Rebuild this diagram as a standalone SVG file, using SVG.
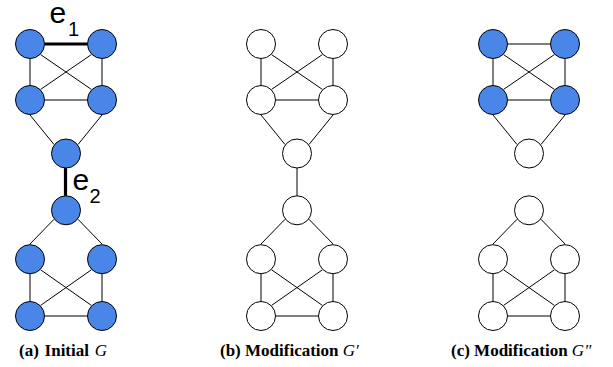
<svg xmlns="http://www.w3.org/2000/svg" width="613" height="367" viewBox="0 0 613 367">
<style>
.e{stroke:#000;stroke-width:1;fill:none}
.b{stroke:#000;stroke-width:3.2;fill:none}
.n{stroke:#000;stroke-width:1;fill:#fff}
.f{fill:#4A86E8}
.lab{font-family:"Liberation Sans",Arial,sans-serif;fill:#000}
.cap{font-family:"Liberation Serif","Times New Roman",serif;font-weight:bold;font-size:17px;fill:#000}
.it{font-style:italic;font-weight:normal}
</style>
<rect width="613" height="367" fill="#fff"/>
<g id="connectors">
<!-- (a) -->
<line class="b" x1="45" y1="44" x2="87" y2="44"/>
<line class="e" x1="30" y1="59" x2="30" y2="85"/>
<line class="e" x1="102" y1="59" x2="102" y2="85"/>
<line class="e" x1="40.6" y1="54.6" x2="91.4" y2="89.4"/>
<line class="e" x1="91.4" y1="54.6" x2="40.6" y2="89.4"/>
<line class="e" x1="45" y1="100" x2="87" y2="100"/>
<line class="e" x1="30" y1="115" x2="54" y2="144.5"/>
<line class="e" x1="102" y1="115" x2="78" y2="144.5"/>
<line class="b" x1="65.5" y1="168" x2="65.5" y2="196"/>
<line class="e" x1="54" y1="219.3" x2="30" y2="244"/>
<line class="e" x1="78" y1="219.3" x2="102" y2="244"/>
<line class="e" x1="30" y1="274" x2="30" y2="301"/>
<line class="e" x1="102" y1="274" x2="102" y2="301"/>
<line class="e" x1="40.6" y1="269.8" x2="91.4" y2="305.4"/>
<line class="e" x1="91.4" y1="269.8" x2="40.6" y2="305.4"/>
<line class="e" x1="45" y1="316" x2="87" y2="316"/>
<!-- (b) -->
<line class="e" x1="261" y1="59" x2="261" y2="85"/>
<line class="e" x1="333" y1="59" x2="333" y2="85"/>
<line class="e" x1="271.6" y1="54.6" x2="322.4" y2="89.4"/>
<line class="e" x1="322.4" y1="54.6" x2="271.6" y2="89.4"/>
<line class="e" x1="276" y1="100" x2="318" y2="100"/>
<line class="e" x1="261" y1="115" x2="285" y2="144.5"/>
<line class="e" x1="333" y1="115" x2="309" y2="144.5"/>
<line class="e" x1="297" y1="168" x2="297" y2="196"/>
<line class="e" x1="285" y1="219.3" x2="261" y2="244"/>
<line class="e" x1="309" y1="219.3" x2="333" y2="244"/>
<line class="e" x1="261" y1="274" x2="261" y2="301"/>
<line class="e" x1="333" y1="274" x2="333" y2="301"/>
<line class="e" x1="271.6" y1="269.8" x2="322.4" y2="305.4"/>
<line class="e" x1="322.4" y1="269.8" x2="271.6" y2="305.4"/>
<line class="e" x1="276" y1="316" x2="318" y2="316"/>
<!-- (c) -->
<line class="e" x1="508" y1="44" x2="550" y2="44"/>
<line class="e" x1="493" y1="59" x2="493" y2="85"/>
<line class="e" x1="565" y1="59" x2="565" y2="85"/>
<line class="e" x1="503.6" y1="54.6" x2="554.4" y2="89.4"/>
<line class="e" x1="554.4" y1="54.6" x2="503.6" y2="89.4"/>
<line class="e" x1="508" y1="100" x2="550" y2="100"/>
<line class="e" x1="493" y1="115" x2="517" y2="144.5"/>
<line class="e" x1="565" y1="115" x2="541" y2="144.5"/>
<line class="e" x1="517" y1="219.3" x2="493" y2="244"/>
<line class="e" x1="541" y1="219.3" x2="565" y2="244"/>
<line class="e" x1="493" y1="274" x2="493" y2="301"/>
<line class="e" x1="565" y1="274" x2="565" y2="301"/>
<line class="e" x1="503.6" y1="269.8" x2="554.4" y2="305.4"/>
<line class="e" x1="554.4" y1="269.8" x2="503.6" y2="305.4"/>
<line class="e" x1="508" y1="316" x2="550" y2="316"/>
</g>
<!-- (a) nodes -->
<g id="a1"><circle class="n f" cx="30" cy="44" r="14.5"/></g>
<g id="a2"><circle class="n f" cx="102" cy="44" r="14.5"/></g>
<g id="a3"><circle class="n f" cx="30" cy="100" r="14.5"/></g>
<g id="a4"><circle class="n f" cx="102" cy="100" r="14.5"/></g>
<g id="a5"><circle class="n f" cx="66" cy="153.5" r="14.5"/></g>
<g id="a6"><circle class="n f" cx="66" cy="210.3" r="14.5"/></g>
<g id="a7"><circle class="n f" cx="30" cy="259.2" r="14.5"/></g>
<g id="a8"><circle class="n f" cx="102" cy="259.2" r="14.5"/></g>
<g id="a9"><circle class="n f" cx="30" cy="316" r="14.5"/></g>
<g id="a10"><circle class="n f" cx="102" cy="316" r="14.5"/></g>
<!-- (b) nodes -->
<g id="b1"><circle class="n" cx="261" cy="44" r="14.5"/></g>
<g id="b2"><circle class="n" cx="333" cy="44" r="14.5"/></g>
<g id="b3"><circle class="n" cx="261" cy="100" r="14.5"/></g>
<g id="b4"><circle class="n" cx="333" cy="100" r="14.5"/></g>
<g id="b5"><circle class="n" cx="297" cy="153.5" r="14.5"/></g>
<g id="b6"><circle class="n" cx="297" cy="210.3" r="14.5"/></g>
<g id="b7"><circle class="n" cx="261" cy="259.2" r="14.5"/></g>
<g id="b8"><circle class="n" cx="333" cy="259.2" r="14.5"/></g>
<g id="b9"><circle class="n" cx="261" cy="316" r="14.5"/></g>
<g id="b10"><circle class="n" cx="333" cy="316" r="14.5"/></g>
<!-- (c) nodes -->
<g id="c1"><circle class="n f" cx="493" cy="44" r="14.5"/></g>
<g id="c2"><circle class="n f" cx="565" cy="44" r="14.5"/></g>
<g id="c3"><circle class="n f" cx="493" cy="100" r="14.5"/></g>
<g id="c4"><circle class="n f" cx="565" cy="100" r="14.5"/></g>
<g id="c5"><circle class="n" cx="529" cy="153.5" r="14.5"/></g>
<g id="c6"><circle class="n" cx="529" cy="210.3" r="14.5"/></g>
<g id="c7"><circle class="n" cx="493" cy="259.2" r="14.5"/></g>
<g id="c8"><circle class="n" cx="565" cy="259.2" r="14.5"/></g>
<g id="c9"><circle class="n" cx="493" cy="316" r="14.5"/></g>
<g id="c10"><circle class="n" cx="565" cy="316" r="14.5"/></g>
<!-- edge labels -->
<g id="label-e1"><text class="lab" font-size="30" x="49.5" y="23">e</text><text class="lab" font-size="20" x="68" y="36">1</text></g>
<g id="label-e2"><text class="lab" font-size="30" x="72.5" y="190">e</text><text class="lab" font-size="20" x="89.5" y="203">2</text></g>
<!-- captions -->
<text class="cap" x="19" y="356" word-spacing="1.5">(a) Initial <tspan class="it">G</tspan></text>
<text class="cap" x="220" y="356">(b) Modification <tspan class="it">G′</tspan></text>
<text class="cap" x="451" y="356">(c) Modification <tspan class="it">G″</tspan></text>
</svg>
